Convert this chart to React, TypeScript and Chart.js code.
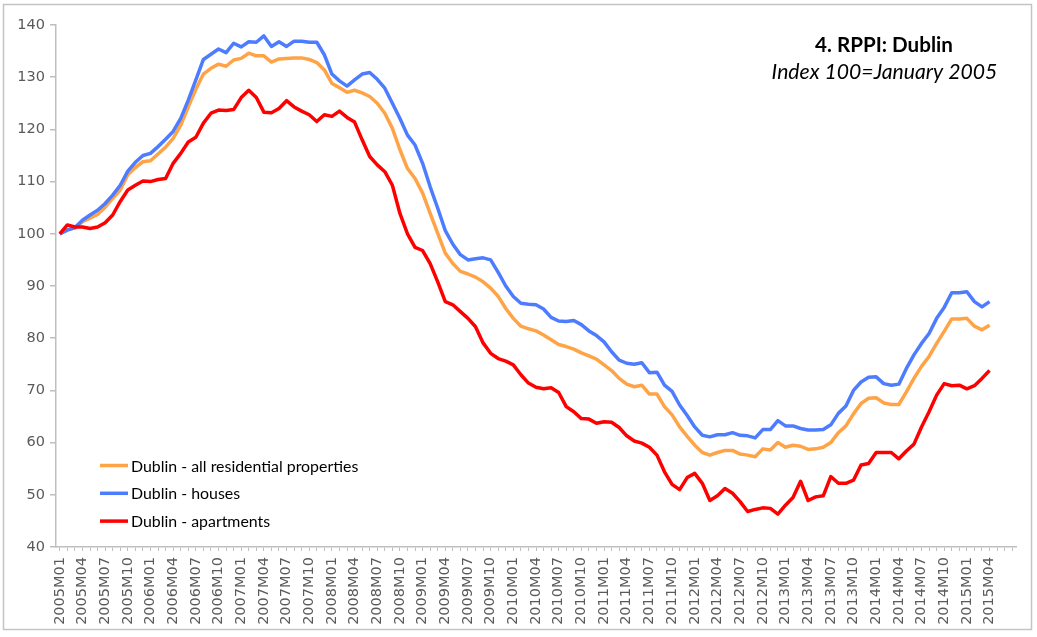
import React, { useEffect, useRef } from 'react';
import { Chart, registerables } from 'chart.js';

Chart.register(...registerables);

// Monthly categories 2005M01 .. 2015M07 (last category has no data, as in the source axis)
const FIRST_YEAR = 2005;
const LAST_YEAR = 2015;
const LAST_MONTH_OF_LAST_YEAR = 7;
const categories: string[] = [];
for (let y = FIRST_YEAR; y <= LAST_YEAR; y++) {
  for (let m = 1; m <= 12; m++) {
    if (y === LAST_YEAR && m > LAST_MONTH_OF_LAST_YEAR) break;
    categories.push(`${y}M${String(m).padStart(2, '0')}`);
  }
}
const LABEL_EVERY = 3;
const LAST_LABELLED_INDEX = 123; // 2015M04

const allResidential: number[] = [
  100.0, 100.8, 101.1, 102.3, 103.0, 103.7, 105.1, 106.8, 108.4, 111.3, 112.7, 113.8,
  114.0, 115.3, 116.6, 118.3, 120.8, 124.3, 127.7, 130.6, 131.7, 132.5, 132.1, 133.3,
  133.6, 134.6, 134.1, 134.1, 132.9, 133.5, 133.6, 133.7, 133.7, 133.4, 132.8, 131.4,
  128.8, 128.0, 127.1, 127.5, 127.0, 126.3, 125.0, 123.1, 120.2, 116.1, 112.5, 110.6,
  107.8, 103.9, 100.1, 96.3, 94.3, 92.8, 92.3, 91.7, 90.8, 89.6, 88.0, 85.7,
  83.8, 82.3, 81.8, 81.4, 80.6, 79.7, 78.8, 78.4, 77.9, 77.2, 76.6, 76.0,
  74.9, 73.8, 72.3, 71.2, 70.7, 71.0, 69.3, 69.3, 66.9, 65.3, 63.0, 61.2,
  59.5, 58.1, 57.6, 58.1, 58.5, 58.5, 57.8, 57.6, 57.3, 58.8, 58.6, 60.0,
  59.1, 59.5, 59.3, 58.7, 58.8, 59.1, 60.0, 61.9, 63.2, 65.5, 67.5, 68.5,
  68.6, 67.6, 67.3, 67.3, 69.7, 72.3, 74.6, 76.5, 79.0, 81.3, 83.7, 83.7,
  83.8, 82.3, 81.6, 82.5,
];

const houses: number[] = [
  100.0, 100.7, 101.2, 102.6, 103.6, 104.5, 105.8, 107.4, 109.3, 112.0, 113.7, 115.0,
  115.4, 116.7, 118.1, 119.6, 122.1, 125.6, 129.5, 133.4, 134.4, 135.4, 134.7, 136.5,
  135.8, 136.8, 136.7, 137.9, 135.9, 136.8, 135.9, 136.9, 136.9, 136.7, 136.7, 134.3,
  130.6, 129.3, 128.3, 129.5, 130.6, 130.9, 129.6, 127.9, 125.0, 122.1, 118.9, 117.0,
  113.5, 109.0, 104.9, 100.6, 98.0, 96.0, 95.0, 95.2, 95.4, 95.0, 92.6, 90.0,
  88.0, 86.7, 86.5, 86.4, 85.6, 84.0, 83.3, 83.2, 83.4, 82.6, 81.4, 80.5,
  79.3, 77.4, 75.8, 75.2, 75.0, 75.3, 73.4, 73.5, 71.0, 69.8, 67.2, 65.2,
  63.0, 61.4, 61.1, 61.5, 61.5, 61.9, 61.4, 61.3, 60.9, 62.5, 62.5, 64.2,
  63.2, 63.2, 62.7, 62.4, 62.4, 62.5, 63.4, 65.6, 67.0, 70.0, 71.6, 72.5,
  72.6, 71.3, 71.0, 71.2, 74.2, 76.8, 79.0, 80.9, 83.8, 85.9, 88.7, 88.7,
  88.9, 87.0, 86.0, 87.0,
];

const apartments: number[] = [
  100.0, 101.7, 101.3, 101.3, 101.0, 101.3, 102.1, 103.6, 106.2, 108.4, 109.3, 110.1,
  110.0, 110.4, 110.6, 113.5, 115.4, 117.6, 118.5, 121.2, 123.1, 123.7, 123.6, 123.8,
  126.1, 127.5, 126.1, 123.3, 123.2, 124.0, 125.5, 124.3, 123.5, 122.8, 121.5, 122.8,
  122.5, 123.5, 122.3, 121.4, 118.0, 114.8, 113.2, 111.9, 109.3, 103.9, 100.0, 97.4,
  96.8, 94.3, 90.8, 87.0, 86.4, 85.1, 83.8, 82.2, 79.1, 77.1, 76.1, 75.6,
  74.9, 73.0, 71.4, 70.6, 70.3, 70.5, 69.6, 66.9, 65.9, 64.6, 64.5, 63.7,
  64.0, 63.9, 62.9, 61.3, 60.3, 59.9, 59.1, 57.6, 54.4, 52.0, 51.0, 53.3,
  54.1, 52.2, 48.9, 49.8, 51.2, 50.3, 48.7, 46.8, 47.2, 47.5, 47.4, 46.3,
  48.0, 49.5, 52.6, 48.9, 49.6, 49.8, 53.5, 52.2, 52.2, 52.8, 55.7, 56.0,
  58.1, 58.1, 58.1, 56.9, 58.4, 59.7, 63.0, 65.9, 69.1, 71.3, 70.9, 71.0,
  70.3, 70.9, 72.3, 73.8,
];

const seriesLabels = [
  'Dublin - all residential properties',
  'Dublin - houses',
  'Dublin - apartments',
];
const seriesColors = ['#ffa347', '#4d7cff', '#ff0000'];

const titleText = '4. RPPI: Dublin';
const subtitleText = 'Index 100=January 2005';

const Y_MIN = 40;
const Y_MAX = 140;
const Y_STEP = 10;

const TICK_FONT = { family: '"DejaVu Sans", Verdana, sans-serif', size: 14.5 };
const TICK_COLOR = '#5a5a5a';
const AXIS_COLOR = '#bfbfbf';
const TEXT_FONT = 'Lato, "Open Sans", sans-serif';

const framePlugin = {
  id: 'frame',
  beforeDraw(chart: any) {
    const { ctx, width, height } = chart;
    ctx.save();
    ctx.fillStyle = '#ffffff';
    ctx.fillRect(0, 0, width, height);
    ctx.strokeStyle = '#c4c4c4';
    ctx.lineWidth = 1.5;
    ctx.strokeRect(3.5, 4.5, 1028, 625);
    ctx.restore();
  },
};

const overlayPlugin = {
  id: 'overlay',
  afterDraw(chart: any) {
    const { ctx } = chart;
    ctx.save();
    // Title
    ctx.fillStyle = '#000000';
    ctx.textAlign = 'center';
    ctx.textBaseline = 'alphabetic';
    ctx.font = `bold 20.6px ${TEXT_FONT}`;
    ctx.fillText(titleText, 884, 51.5);
    ctx.font = `italic 21.2px ${TEXT_FONT}`;
    ctx.fillText(subtitleText, 884.5, 78.5);
    // Legend
    const ds = chart.data.datasets;
    ctx.textAlign = 'left';
    ctx.font = `15.9px ${TEXT_FONT}`;
    for (let k = 0; k < ds.length; k++) {
      const y = 465.5 + k * 27.8;
      ctx.strokeStyle = ds[k].borderColor;
      ctx.lineWidth = 3.5;
      ctx.lineCap = 'butt';
      ctx.beginPath();
      ctx.moveTo(100, y);
      ctx.lineTo(128, y);
      ctx.stroke();
      ctx.fillStyle = '#000000';
      ctx.fillText(ds[k].label, 131, y + 6);
    }
    ctx.restore();
  },
};

export default function App() {
  const canvasRef = useRef<HTMLCanvasElement | null>(null);

  useEffect(() => {
    const canvas = canvasRef.current;
    if (!canvas) return;
    const seriesData = [allResidential, houses, apartments];
    const chart = new Chart(canvas, {
      type: 'line',
      data: {
        labels: categories,
        datasets: seriesData.map((d, k) => ({
          label: seriesLabels[k],
          data: d,
          borderColor: seriesColors[k],
          backgroundColor: seriesColors[k],
          borderWidth: 3.5,
          pointRadius: 0,
          pointHoverRadius: 0,
          tension: 0,
          fill: false,
          borderJoinStyle: 'round' as const,
          order: 3 - k,
        })),
      },
      options: {
        animation: false,
        responsive: false,
        layout: { padding: { left: 0, top: 25, right: 21, bottom: 0 } },
        plugins: {
          legend: { display: false },
          title: { display: false },
          tooltip: { enabled: false },
        },
        scales: {
          x: {
            type: 'category',
            offset: true,
            grid: {
              display: true,
              drawOnChartArea: false,
              drawTicks: true,
              tickLength: 4,
              color: AXIS_COLOR,
              lineWidth: 1,
              offset: false,
            },
            border: { display: true, color: AXIS_COLOR, width: 1.5 },
            ticks: {
              autoSkip: false,
              maxRotation: 90,
              minRotation: 90,
              padding: 6,
              color: TICK_COLOR,
              font: TICK_FONT,
              callback: (_v: any, i: number) =>
                i % LABEL_EVERY === 0 && i <= LAST_LABELLED_INDEX ? categories[i] : '',
            },
            afterFit: (s: any) => {
              s.height = 90;
            },
          },
          y: {
            min: Y_MIN,
            max: Y_MAX,
            ticks: {
              stepSize: Y_STEP,
              padding: 5,
              color: TICK_COLOR,
              font: TICK_FONT,
            },
            grid: {
              drawOnChartArea: false,
              drawTicks: true,
              tickLength: 6,
              color: AXIS_COLOR,
              lineWidth: 1.5,
            },
            border: { display: true, color: AXIS_COLOR, width: 1.5 },
            afterFit: (s: any) => {
              s.width = 56;
            },
          },
        },
      },
      plugins: [framePlugin, overlayPlugin],
    } as any);
    return () => chart.destroy();
  }, []);

  return (
    <div style={{ position: 'absolute', left: 0, top: 0, width: 1037, height: 637, background: '#fff' }}>
      <canvas ref={canvasRef} width={1037} height={637} style={{ display: 'block', width: 1037, height: 637 }} />
    </div>
  );
}
